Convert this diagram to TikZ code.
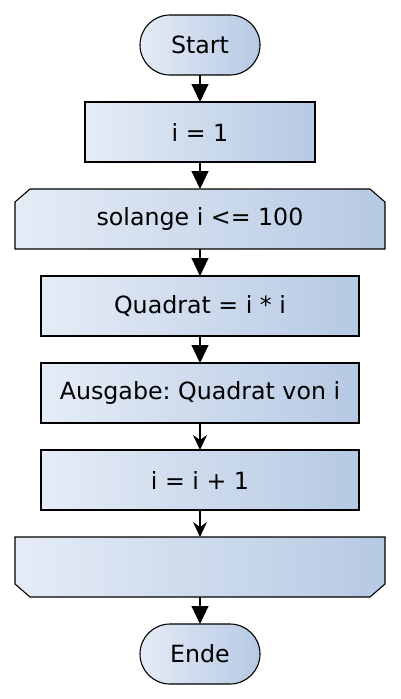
\documentclass[tikz,border=0pt]{standalone}
\usepackage{fontspec}
\setmainfont{DejaVu Sans}
\frenchspacing
\usetikzlibrary{positioning,arrows.meta,backgrounds}

\definecolor{boxleft}{HTML}{E5ECF6}
\definecolor{boxright}{HTML}{B6C9E3}

\tikzset{
	box/.style={draw=black,line width=1.1pt,left color=boxleft,right color=boxright,minimum height=60pt,inner sep=0pt,outer sep=0pt,font=\fontsize{23.7}{28}\selectfont},
	terminal/.style={box,rounded corners=30pt,minimum width=120pt},
	action/.style={box,rectangle,minimum width=318pt},
	loopbox/.style={rectangle,minimum width=370pt,minimum height=60pt,inner sep=0pt,outer sep=0pt,font=\fontsize{23.7}{28}\selectfont},
	loopshade/.style={draw=black,line width=1.1pt,left color=boxleft,right color=boxright},
	bigarrow/.style={line width=1.1pt,-{Triangle[width=17pt,length=18pt]}},
	smallarrow/.style={line width=1.1pt,-{Stealth[width=14pt,length=15pt,inset=5pt]}}
}

\begin{document}
\begin{tikzpicture}[x=1pt,y=1pt]
	\useasboundingbox (0,0) rectangle (400,-699);
	
	\node[terminal] (start) at (200,-45) {Start};
	\node[action,minimum width=230pt,below=27pt of start] (init) {i = 1};
	\node[loopbox,below=27pt of init] (head) {solange i <= 100};
	\node[action,below=27pt of head] (square) {Quadrat = i * i};
	\node[action,below=27pt of square] (output) {Ausgabe: Quadrat von i};
	\node[action,below=27pt of output] (incr) {i = i + 1};
	\node[loopbox,below=27pt of incr] (tail) {};
	\node[terminal,below=27pt of tail] (stop) {Ende};
	
	% loop outlines with cut corners
	\begin{scope}[on background layer]
		\draw[loopshade](head.south west)--([yshift=-13pt]head.north west)--([xshift=15pt]head.north west)--([xshift=-15pt]head.north east)--([yshift=-13pt]head.north east)--(head.south east)--cycle;
		\draw[loopshade](tail.north west)--([yshift=13pt]tail.south west)--([xshift=15pt]tail.south west)--([xshift=-15pt]tail.south east)--([yshift=13pt]tail.south east)--(tail.north east)--cycle;
	\end{scope}
	
	\draw[bigarrow](start)--(init);
	\draw[bigarrow](init)--(head);
	\draw[bigarrow](head)--(square);
	\draw[bigarrow](square)--(output);
	\draw[smallarrow](output)--(incr);
	\draw[smallarrow](incr)--(tail);
	\draw[bigarrow](tail)--(stop);
	
\end{tikzpicture}
\end{document}
